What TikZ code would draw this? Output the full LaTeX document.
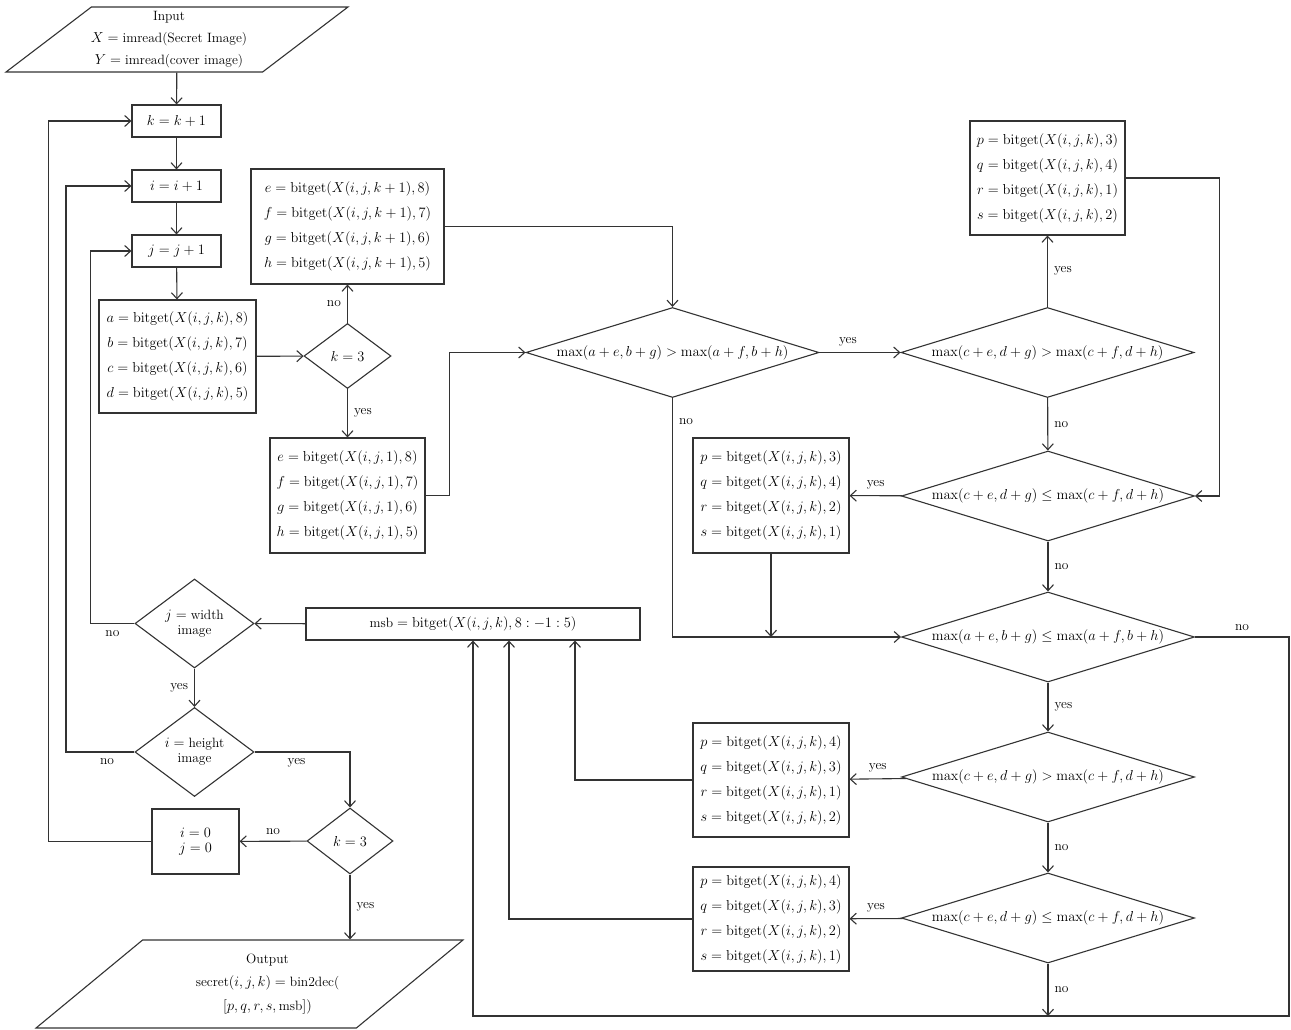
\documentclass[tikz,border=0pt]{standalone}
\usepackage{amsmath}
\usetikzlibrary{shapes.geometric,arrows.meta}

\newcommand{\bitget}{\mathrm{bitget}}

\begin{document}
\begin{tikzpicture}
          [x=1pt,y=-1pt,line width=1.1pt,
          font=\fontsize{13.5}{25}\selectfont,
          box/.style={shape=rectangle,draw=black!80,fill=white,align=center,inner sep=3pt},
          dec/.style={shape=diamond,draw=black!80,fill=white,align=center,inner sep=0pt,aspect=1.34,font=\fontsize{13.5}{15}\selectfont},
          bigdec/.style={dec,aspect=3.3,minimum width=293pt,minimum height=90pt},
          io/.style={shape=trapezium,trapezium left angle=63.5,trapezium right angle=116.5,trapezium stretches,draw=black!80},
          arc/.style={->,>={Straight Barb[length=6pt,width=11pt]},draw=black!80},
          lbl/.style={font=\fontsize{13.5}{15}\selectfont,inner sep=6pt}]

          \useasboundingbox [fill=white] (0,0) rectangle (1291,1030);

            % left column
            \node (input) [io,minimum width=342pt,minimum height=65pt,
              label={[align=center,xshift=-8pt,font=\fontsize{13.5}{22}\selectfont]center:Input\\$X=\text{imread(Secret Image)}$\\$Y=\text{imread(cover image)}$}] at (177,39.5) {};
            \node (kinc) [box,minimum width=89pt,minimum height=32pt] at (176.5,121) {$k=k+1$};
            \node (iinc) [box,minimum width=89pt,minimum height=32pt] at (176.5,186) {$i=i+1$};
            \node (jinc) [box,minimum width=89pt,minimum height=32pt] at (176.5,251) {$j=j+1$};
            \node (abcd) [box,minimum width=157pt,minimum height=113pt] at (177.5,356.5)
              {$a=\bitget(X(i,j,k),8)$\\$b=\bitget(X(i,j,k),7)$\\$c=\bitget(X(i,j,k),6)$\\$d=\bitget(X(i,j,k),5)$};
            \node (jwidth) [dec,minimum width=119pt,minimum height=89pt] at (194.5,623.5) {$j=\text{width}$\\image};
            \node (iheight) [dec,minimum width=119pt,minimum height=89pt] at (194.5,752) {$i=\text{height}$\\image};
            \node (reset) [box,minimum width=87pt,minimum height=65pt,font=\fontsize{13.5}{15}\selectfont] at (195.5,841.5) {$i=0$\\$j=0$};
            \node (kthreeb) [dec,minimum width=86pt,minimum height=66pt] at (350,841) {$k=3$};
            \node (output) [io,minimum width=427pt,minimum height=88pt,
              label={[align=center,xshift=18pt,font=\fontsize{13.5}{23.5}\selectfont]center:Output\\$\text{secret}(i,j,k)=\text{bin2dec(}$\\$[p,q,r,s,\text{msb}])$}] at (249.5,984) {};

            % middle column
            \node (kthree) [dec,minimum width=87pt,minimum height=65pt] at (347.5,356) {$k=3$};
            \node (efghk) [box,minimum width=193pt,minimum height=115pt] at (347.5,226.5)
              {$e=\bitget(X(i,j,k+1),8)$\\$f=\bitget(X(i,j,k+1),7)$\\$g=\bitget(X(i,j,k+1),6)$\\$h=\bitget(X(i,j,k+1),5)$};
            \node (efghone) [box,minimum width=155pt,minimum height=115pt] at (347.5,495.5)
              {$e=\bitget(X(i,j,1),8)$\\$f=\bitget(X(i,j,1),7)$\\$g=\bitget(X(i,j,1),6)$\\$h=\bitget(X(i,j,1),5)$};
            \node (msb) [box,minimum width=334pt,minimum height=32pt] at (473,624) {$\text{msb}=\bitget(X(i,j,k),8:-1:5)$};
            \node (cmpa) [bigdec] at (672.5,352.5) {$\max(a+e,b+g)>\max(a+f,b+h)$};

            % p q r s boxes
            \node (pqrsa) [box,minimum width=155pt,minimum height=114pt] at (1047.5,178)
              {$p=\bitget(X(i,j,k),3)$\\$q=\bitget(X(i,j,k),4)$\\$r=\bitget(X(i,j,k),1)$\\$s=\bitget(X(i,j,k),2)$};
            \node (pqrsb) [box,minimum width=156pt,minimum height=115pt] at (771,495.5)
              {$p=\bitget(X(i,j,k),3)$\\$q=\bitget(X(i,j,k),4)$\\$r=\bitget(X(i,j,k),2)$\\$s=\bitget(X(i,j,k),1)$};
            \node (pqrsc) [box,minimum width=156pt,minimum height=114pt] at (771,780)
              {$p=\bitget(X(i,j,k),4)$\\$q=\bitget(X(i,j,k),3)$\\$r=\bitget(X(i,j,k),1)$\\$s=\bitget(X(i,j,k),2)$};
            \node (pqrsd) [box,minimum width=156pt,minimum height=104pt] at (771,919)
              {$p=\bitget(X(i,j,k),4)$\\$q=\bitget(X(i,j,k),3)$\\$r=\bitget(X(i,j,k),2)$\\$s=\bitget(X(i,j,k),1)$};

            % right column
            \node (cmpb) [bigdec] at (1047.5,352.5) {$\max(c+e,d+g)>\max(c+f,d+h)$};
            \node (cmpc) [bigdec] at (1048,496) {$\max(c+e,d+g)\le\max(c+f,d+h)$};
            \node (cmpd) [bigdec] at (1048,637) {$\max(a+e,b+g)\le\max(a+f,b+h)$};
            \node (cmpe) [bigdec] at (1048,777) {$\max(c+e,d+g)>\max(c+f,d+h)$};
            \node (cmpf) [bigdec] at (1048,918) {$\max(c+e,d+g)\le\max(c+f,d+h)$};
            \coordinate (corner) at (1289,1016);

          \draw [arc] (input) -- (kinc);
          \draw [arc] (kinc) -- (iinc);
          \draw [arc] (iinc) -- (jinc);
          \draw [arc] (jinc) -- (abcd);
          \draw [arc] (abcd) -- (kthree);
          \draw [arc] (kthree) -- node [lbl,left] {no} (efghk);
          \draw [arc] (kthree) -- node [lbl,right] {yes} (efghone);
          \draw [arc] (efghk.east) -| (cmpa.north);
          \draw [arc] (efghone.east) -- ++(24,0) |- (cmpa.west);
          \draw [arc] (cmpa) -- node [lbl,above,pos=0.35] {yes} (cmpb);
          \draw [arc] (cmpb) -- node [lbl,right] {yes} (pqrsa);
          \draw [arc] (pqrsa.east) -- ++(93.5,0) |- (cmpc.east);
          \draw [arc] (cmpb) -- node [lbl,right] {no} (cmpc);
          \draw [arc] (cmpc) -- node [lbl,above] {yes} (pqrsb);
          \draw [arc] (cmpc) -- node [lbl,right] {no} (cmpd);
          \draw [arc] (cmpa.south) |- node [lbl,right,pos=0.05] {no} (cmpd.west);
          \draw [arc] (pqrsb) -- (pqrsb |- cmpd.west);
          \draw [arc] (cmpd.east) -| node [lbl,above,pos=0.25] {no} (corner) -| (msb.south);
          \draw [arc] (cmpd) -- node [lbl,right] {yes} (cmpe);
          \draw [arc] (cmpe) -- node [lbl,above] {yes} (pqrsc);
          \draw [arc] (cmpe) -- node [lbl,right] {no} (cmpf);
          \draw [arc] (cmpf) -- node [lbl,above] {yes} (pqrsd);
          \draw [arc] (cmpf) -- node [lbl,right] {no} (cmpf |- corner);
          \draw [arc] (pqrsc.west) -| ([xshift=102pt]msb.south);
          \draw [arc] (pqrsd.west) -| ([xshift=36pt]msb.south);
          \draw [arc] (msb) -- (jwidth);
          \draw [arc] (jwidth.west) -- node [lbl,below] {no} ++(-44,0) |- (jinc.west);
          \draw [arc] (jwidth) -- node [lbl,left] {yes} (iheight);
          \draw [arc] (iheight.west) -- node [lbl,below,pos=0.4] {no} ++(-68.5,0) |- (iinc.west);
          \draw [arc] (iheight.east) -| node [lbl,below,pos=0.22] {yes} (kthreeb.north);
          \draw [arc] (kthreeb) -- node [lbl,above] {no} (reset);
          \draw [arc] (reset.west) -- ++(-103,0) |- (kinc.west);
          \draw [arc] (kthreeb) -- node [lbl,right] {yes} (kthreeb |- output.north);

        \end{tikzpicture}
\end{document}
